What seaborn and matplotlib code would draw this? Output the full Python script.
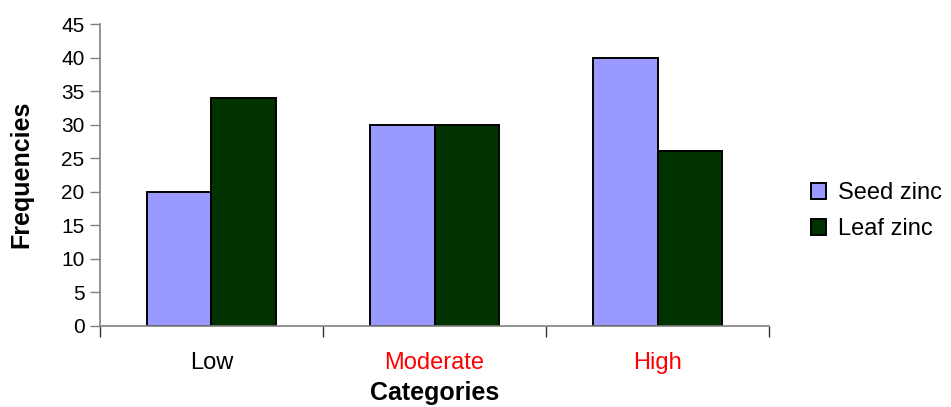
import matplotlib
matplotlib.use("Agg")
import matplotlib.pyplot as plt
import seaborn as sns
import pandas as pd
from matplotlib.ticker import FixedLocator

# ── Data ─────────────────────────────────────────────────
categories = ["Low", "Moderate", "High"]
seed_zinc = [20, 30, 40]
leaf_zinc = [34, 30, 26]
series_names = ["Seed zinc", "Leaf zinc"]
label_colors = ["black", "red", "red"]

df = pd.DataFrame({
    "Category": categories * 2,
    "Series": [series_names[0]] * 3 + [series_names[1]] * 3,
    "Frequency": seed_zinc + leaf_zinc,
})

sns.set_theme(style="white")
plt.rcParams["font.family"] = ["Liberation Sans", "DejaVu Sans"]
plt.rcParams["text.color"] = "black"
plt.rcParams["axes.labelcolor"] = "black"
plt.rcParams["xtick.color"] = "black"
plt.rcParams["ytick.color"] = "black"

fig = plt.figure(figsize=(9.51, 4.07), dpi=100)
ax = fig.add_axes([0.105, 0.2, 0.704, 0.741])

sns.barplot(data=df, x="Category", y="Frequency", hue="Series",
            order=categories, hue_order=series_names,
            palette=["#9999FF", "#003300"], width=0.58,
            edgecolor="black", linewidth=1.4, saturation=1, ax=ax)

ax.set_xlim(-0.5, 2.5)
ax.set_ylim(0, 45)
ax.set_yticks(range(0, 50, 5))
ax.tick_params(axis="y", which="major", direction="out", length=7,
               width=1, color="#808080", labelsize=15, pad=4, left=True,
               labelcolor="black")
ax.tick_params(axis="x", which="major", length=0, labelsize=17, pad=19)
ax.xaxis.set_minor_locator(FixedLocator([-0.5, 0.5, 1.5, 2.5]))
ax.tick_params(axis="x", which="minor", direction="out", length=8,
               width=1, color="#333333", bottom=True)
for lbl, c in zip(ax.get_xticklabels(), label_colors):
    lbl.set_color(c)

for side in ["top", "right"]:
    ax.spines[side].set_visible(False)
for side in ["left", "bottom"]:
    ax.spines[side].set_color("#808080")
    ax.spines[side].set_linewidth(1.2)

ax.set_ylabel("Frequencies", fontsize=18, fontweight="bold", labelpad=20)
ax.set_xlabel("Categories", fontsize=18, fontweight="bold", labelpad=5)

leg = ax.legend(loc="center left", bbox_to_anchor=(1.03, 0.38), frameon=False,
                fontsize=17, handlelength=0.65, handleheight=0.65,
                handletextpad=0.5, labelspacing=0.6)
for h in leg.legend_handles:
    h.set_edgecolor("black")
    h.set_linewidth(1.4)

fig.savefig("out.png", dpi=100)
